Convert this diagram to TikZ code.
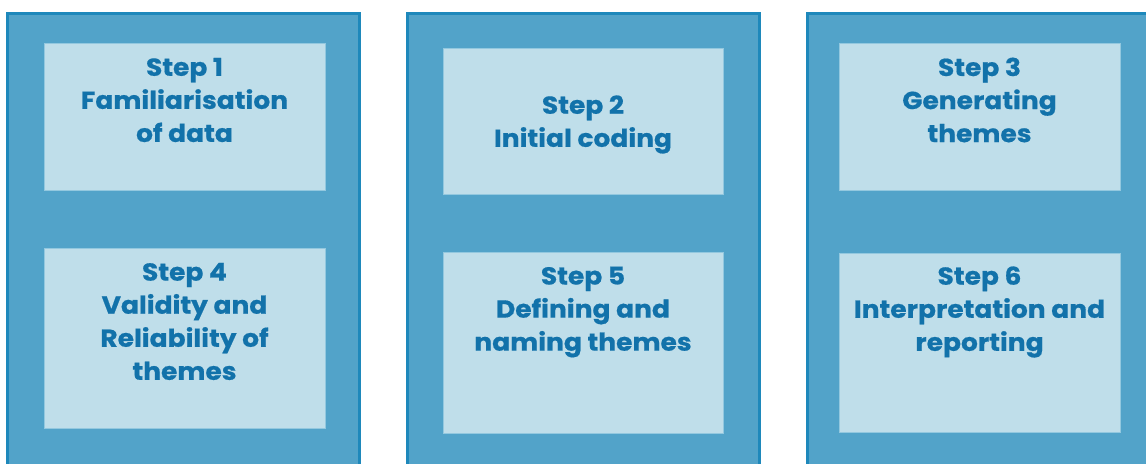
\documentclass[tikz,border=0pt]{standalone}
\usepackage{fontspec}
\setmainfont{Poppins}[BoldFont={* Bold},BoldFeatures={FakeStretch=1.08,FakeBold=0.6}]
\definecolor{panelfill}{HTML}{52A3C9}
\definecolor{panelline}{HTML}{1E88BB}
\definecolor{boxfill}{HTML}{BFDEEA}
\definecolor{boxline}{HTML}{93C8DF}
\definecolor{txtcol}{HTML}{1272AA}
\tikzset{
  panel/.style={fill=panelfill, draw=panelline, line width=2.2pt},
  stepbox/.style={fill=boxfill, draw=boxline, line width=0.6pt},
  txt/.style={text=txtcol, font=\fontsize{18.4pt}{24.8pt}\selectfont\bfseries, align=center, inner sep=0pt}
}
\begin{document}
\begin{tikzpicture}[x=0.75pt,y=-0.75pt]
\useasboundingbox (0,0) rectangle (1146,464);
\begin{scope}
\clip (0,0) rectangle (1146,464);
\draw[panel] (7.5,13.5) rectangle (359.5,490);
\draw[panel] (407.5,13.5) rectangle (759.5,490);
\draw[panel] (807.5,13.5) rectangle (1160,490);
\end{scope}
\node[stepbox, minimum width=281*0.75pt, minimum height=147*0.75pt, anchor=north west] (b1) at (44,43) {};
\node[stepbox, minimum width=281*0.75pt, minimum height=180*0.75pt, anchor=north west] (b4) at (44,248) {};
\node[stepbox, minimum width=280*0.75pt, minimum height=146*0.75pt, anchor=north west] (b2) at (443,48) {};
\node[stepbox, minimum width=280*0.75pt, minimum height=181*0.75pt, anchor=north west] (b5) at (443,252) {};
\node[stepbox, minimum width=281*0.75pt, minimum height=147*0.75pt, anchor=north west] (b3) at (839,43) {};
\node[stepbox, minimum width=281*0.75pt, minimum height=179*0.75pt, anchor=north west] (b6) at (839,253) {};
\node[txt] (t1) at (184.5,100) {Step 1\\Familiarisation\\of data};
\node[txt] (t4) at (184.5,321.5) {Step 4\\Validity and\\Reliability of\\themes};
\node[txt] (t2) at (583,124.5) {Step 2\\Initial coding};
\node[txt] (t5) at (583,312) {Step 5\\Defining and\\naming themes};
\node[txt] (t3) at (979.5,100) {Step 3\\Generating\\themes};
\node[txt] (t6) at (979.5,312) {Step 6\\Interpretation and\\reporting};
\end{tikzpicture}
\end{document}
